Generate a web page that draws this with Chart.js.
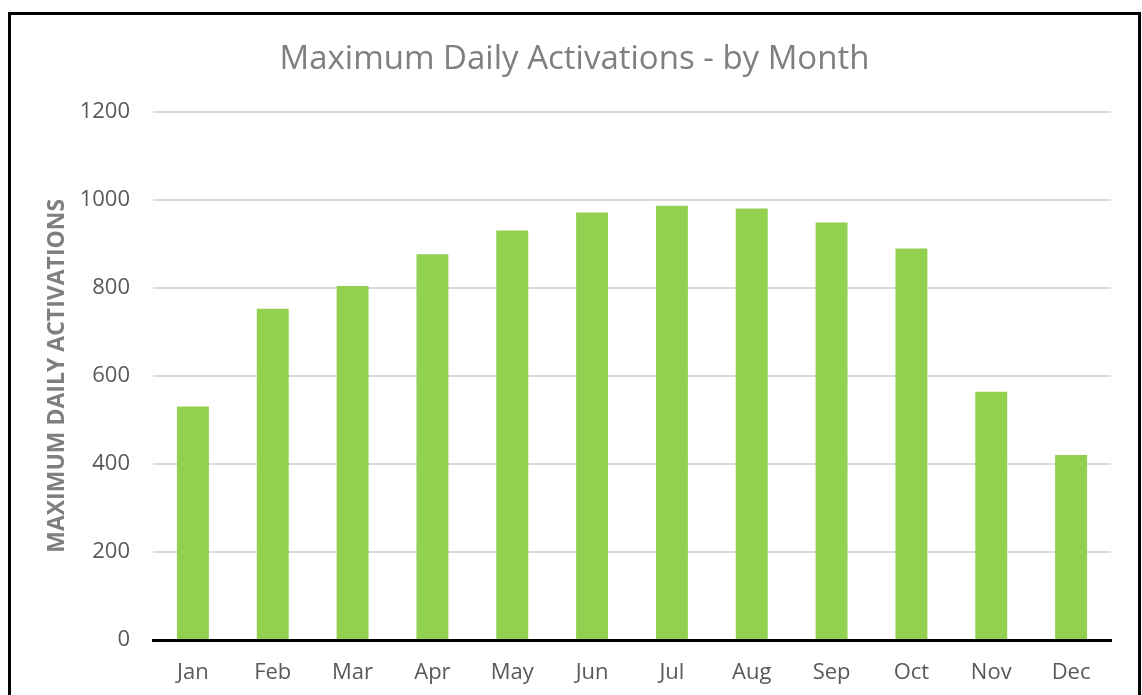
<!DOCTYPE html>
<html>
<head>
<meta charset="utf-8">
<script src="https://cdn.jsdelivr.net/npm/chart.js"></script>
<style>
  body { margin: 0; background: #fff; overflow: hidden; }
  #frame {
    position: absolute;
    left: 8px;
    top: 12px;
    width: 1127px;
    height: 720px;
    border: 3px solid #000;
    background: #fff;
  }
  #wrap { position: relative; width: 1127px; height: 680px; }
</style>
</head>
<body>
<div id="frame">
  <div id="wrap"><canvas id="myChart"></canvas></div>
</div>
<script>
const months = ['Jan', 'Feb', 'Mar', 'Apr', 'May', 'Jun', 'Jul', 'Aug', 'Sep', 'Oct', 'Nov', 'Dec'];
const activations = [530, 752, 804, 876, 930, 971, 986, 980, 948, 889, 564, 420];
const yTicks = [0, 200, 400, 600, 800, 1000, 1200];

const data = {
  labels: months,
  datasets: [
    {
      label: 'Maximum Daily Activations',
      backgroundColor: '#92D050',
      borderWidth: 0,
      barPercentage: 0.8,
      categoryPercentage: 0.5,
      yAxisID: 'y',
      data: activations
    }
  ]
};

const config = {
  type: 'bar',
  data: data,
  options: {
    responsive: true,
    maintainAspectRatio: false,
    animation: false,
    layout: { padding: 0 },
    plugins: {
      legend: { display: false },
      tooltip: { enabled: false },
      title: {
        display: true,
        text: 'Maximum Daily Activations - by Month',
        color: '#7f7f7f',
        font: { family: 'Open Sans', size: 33, weight: 'normal' },
        padding: { top: 25, bottom: 32 }
      }
    },
    scales: {
      x: {
        grid: { display: false, drawTicks: false },
        border: { display: true, color: '#000', width: 3 },
        ticks: {
          color: '#595959',
          padding: 20,
          font: { family: 'Open Sans', size: 22 }
        },
        afterFit: function(scale) { scale.height = 55; }
      },
      y: {
        min: 0,
        max: 1200,
        afterBuildTicks: function(scale) {
          scale.ticks = yTicks.map(function(v) { return { value: v }; });
        },
        grid: { color: '#d9d9d9', lineWidth: 2, drawTicks: false },
        border: { display: false },
        ticks: {
          color: '#595959',
          padding: 23,
          font: { family: 'Open Sans', size: 22 },
          callback: function(value) { return String(value); }
        },
        title: {
          display: true,
          text: 'MAXIMUM DAILY ACTIVATIONS',
          color: '#7f7f7f',
          font: { family: 'Open Sans', size: 23, weight: 'bold' },
          padding: { top: 33, bottom: 8 }
        },
        afterFit: function(scale) { scale.width = 142; }
      },
      // empty right axis, only keeps a gap on the right so the title stays centred
      yRight: {
        position: 'right',
        min: 0,
        max: 1200,
        grid: { display: false, drawTicks: false },
        border: { display: false },
        ticks: { display: false },
        afterFit: function(scale) { scale.width = 27; }
      }
    }
  }
};

const myChart = new Chart(
  document.getElementById('myChart'),
  config
);
</script>
</body>
</html>
